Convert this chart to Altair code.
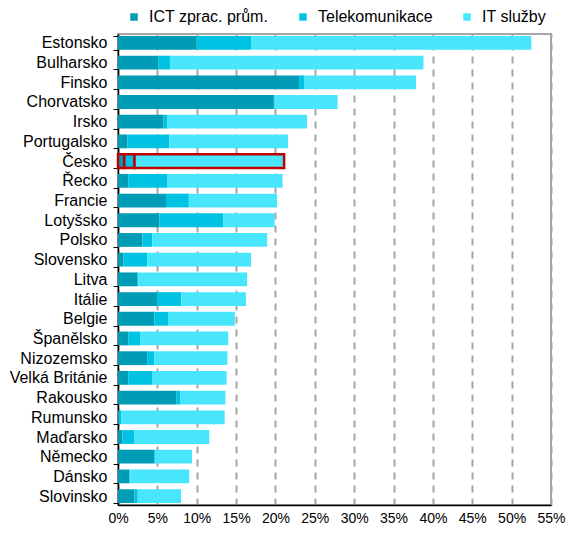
import altair as alt
import pandas as pd

countries = ["Estonsko", "Bulharsko", "Finsko", "Chorvatsko", "Irsko", "Portugalsko",
             "Česko", "Řecko", "Francie", "Lotyšsko", "Polsko", "Slovensko", "Litva",
             "Itálie", "Belgie", "Španělsko", "Nizozemsko", "Velká Británie", "Rakousko",
             "Rumunsko", "Maďarsko", "Německo", "Dánsko", "Slovinsko"]
ict = [10.0, 5.1, 23.0, 19.8, 5.8, 1.2, 0.8, 1.3, 6.1, 5.25, 3.1, 0.7, 2.5,
       4.95, 4.6, 1.3, 3.7, 1.3, 7.45, 0.15, 0.55, 4.6, 1.45, 2.1]
tel = [6.9, 1.5, 0.7, 0.1, 0.5, 5.3, 1.3, 5.0, 2.9, 8.15, 1.25, 3.0, 0.1,
       3.1, 1.75, 1.5, 0.9, 3.1, 0.5, 0.3, 1.55, 0.1, 0.1, 0.4]
its = [35.6, 32.2, 14.15, 8.0, 17.7, 15.1, 19.0, 14.6, 11.2, 6.5, 14.6, 13.2, 13.8,
       8.2, 8.5, 11.2, 9.3, 9.4, 5.7, 13.1, 9.5, 4.7, 7.5, 5.5]
series = ["ICT zprac. prům.", "Telekomunikace", "IT služby"]
colors = ["#009BB4", "#00C3E3", "#48E6FD"]
x_ticks = list(range(0, 60, 5))

rows = []
for i, c in enumerate(countries):
    for k, (name, vals) in enumerate(zip(series, [ict, tel, its])):
        rows.append({"country": c, "series": name, "value": vals[i], "ord": k})
df = pd.DataFrame(rows)

FONT = "Liberation Sans"

chart = alt.Chart(df).mark_bar().encode(
    y=alt.Y("country:N", sort=countries,
            scale=alt.Scale(paddingInner=0.3, paddingOuter=0.1),
            axis=alt.Axis(title=None, labelFontSize=16, labelColor="#000000",
                          labelFont=FONT, tickColor="#000000", tickSize=5,
                          labelPadding=6, domainColor="#000000", domainWidth=1.5,
                          tickBand="extent", grid=False)),
    x=alt.X("value:Q", stack="zero",
            scale=alt.Scale(domain=[0, 55], nice=False),
            axis=alt.Axis(title=None, values=x_ticks, labelExpr="datum.value + '%'",
                          labelFontSize=14, labelColor="#000000", labelFont=FONT,
                          labelFlush=False, labelOverlap=False,
                          ticks=False, labelPadding=6, domainColor="#000000",
                          domainWidth=1.5, grid=True, gridColor="#A6A6A6",
                          gridWidth=2, gridDash=[7, 6])),
    color=alt.Color("series:N",
                    scale=alt.Scale(domain=series, range=colors),
                    legend=alt.Legend(title=None, orient="none", legendX=8, legendY=-25,
                                      direction="horizontal", columnPadding=26,
                                      symbolType="square", symbolSize=56,
                                      symbolStrokeWidth=0, labelOffset=7,
                                      labelFontSize=16, labelFont=FONT,
                                      labelColor="#000000", padding=0)),
    order=alt.Order("ord:Q"),
    stroke=alt.condition(alt.datum.country == "Česko", alt.value("#C00000"),
                         alt.value("transparent")),
    strokeWidth=alt.condition(alt.datum.country == "Česko", alt.value(2.5),
                              alt.value(0)),
).properties(
    width=433, height=471,
    autosize=alt.AutoSizeParams(type="none"),
    padding={"left": 110, "top": 26, "right": 15, "bottom": 20},
).configure_view(
    stroke="#A6A6A6", strokeWidth=2
)

chart.save("out.html", embed_options={"renderer": "svg", "actions": False})
